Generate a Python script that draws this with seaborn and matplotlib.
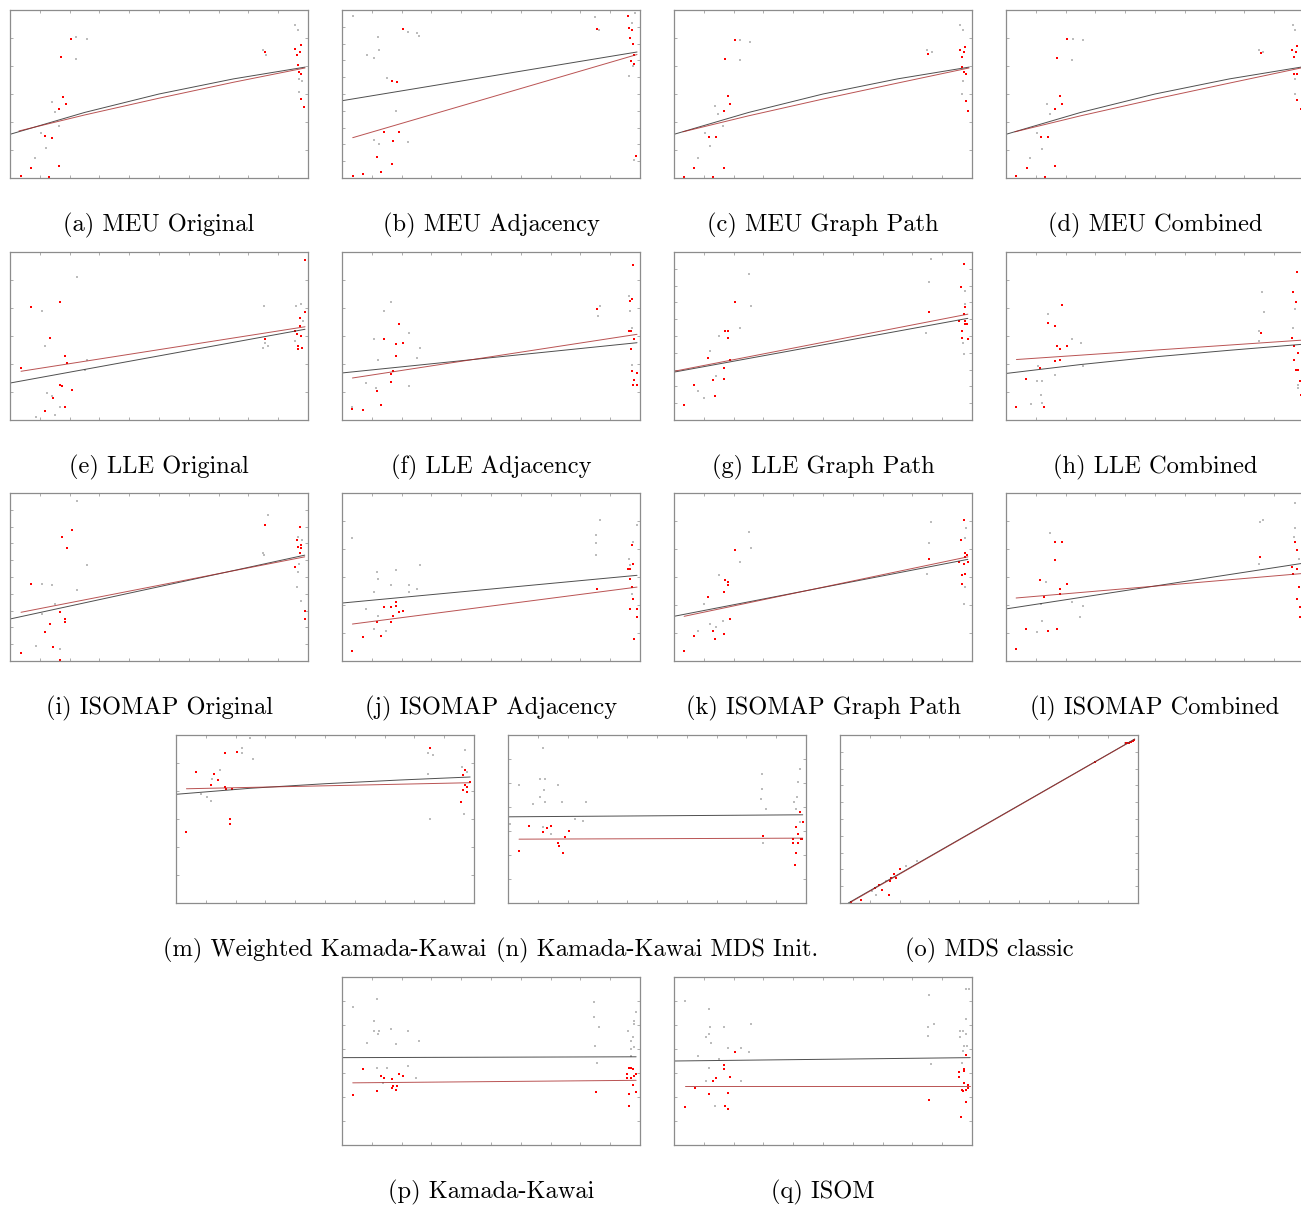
import numpy as np
import matplotlib
matplotlib.use("Agg")
import matplotlib.pyplot as plt
import seaborn as sns

sns.set_theme(style="white")
plt.rcParams['font.family'] = ['cmr10', 'DejaVu Serif']

# ---- data (normalised axis units 0..1) ----
# a) MEU Original
a_red = [(0.036,0.01),(0.069,0.06),(0.13,0.004),(0.116,0.25),(0.141,0.24),(0.165,0.07),(0.165,0.41),(0.179,0.48),(0.189,0.44),(0.17,0.72),(0.204,0.83),
         (0.855,0.75),(0.958,0.77),(0.977,0.79),(0.972,0.75),(0.964,0.73),(0.966,0.67),(0.969,0.63),(0.978,0.62),(0.978,0.47),(0.987,0.42)]
a_gray = [(0.22,0.84),(0.26,0.83),(0.22,0.71),(0.14,0.45),(0.15,0.39),(0.105,0.27),(0.12,0.18),(0.083,0.12),(0.165,0.31),
          (0.85,0.76),(0.86,0.73),(0.958,0.91),(0.967,0.88),(0.97,0.59),(0.98,0.58),(0.97,0.51)]
a_black = [(0,0.26),(0.25,0.39),(0.5,0.50),(0.75,0.59),(0.99,0.66)]
a_fit = [(0.03,0.28),(0.25,0.375),(0.5,0.475),(0.75,0.57),(0.99,0.655)]

# b) MEU Adjacency
b_red = [(0.036,0.01),(0.07,0.024),(0.13,0.034),(0.116,0.125),(0.168,0.083),(0.171,0.218),(0.142,0.275),(0.19,0.271),(0.168,0.578),(0.183,0.574),(0.206,0.887),
         (0.856,0.889),(0.959,0.964),(0.964,0.895),(0.973,0.881),(0.966,0.832),(0.975,0.796),(0.979,0.731),(0.969,0.697),(0.98,0.681),(0.988,0.133)]
b_gray = [(0.036,0.966),(0.084,0.733),(0.106,0.717),(0.12,0.842),(0.123,0.762),(0.223,0.867),(0.251,0.861),(0.26,0.846),(0.151,0.594),(0.181,0.396),
          (0.106,0.228),(0.123,0.202),(0.223,0.212),(0.849,0.96),(0.864,0.881),(0.962,0.608),(0.978,0.667),(0.98,0.109),(0.984,0.98),(0.972,0.921)]
b_black = [(0,0.46),(0.99,0.75)]
b_fit = [(0.036,0.24),(0.99,0.735)]

# c) MEU Graph Path
c_red = [(0.034,0.004),(0.068,0.06),(0.13,0.004),(0.116,0.247),(0.14,0.247),(0.167,0.06),(0.167,0.40),(0.181,0.49),(0.189,0.44),(0.17,0.71),(0.205,0.82),
         (0.854,0.74),(0.959,0.76),(0.977,0.78),(0.973,0.75),(0.965,0.72),(0.967,0.66),(0.973,0.63),(0.98,0.62),(0.98,0.46),(0.988,0.40)]
c_gray = [(0.223,0.82),(0.256,0.81),(0.223,0.70),(0.139,0.43),(0.148,0.38),(0.105,0.27),(0.12,0.19),(0.082,0.12),(0.165,0.31),
          (0.848,0.76),(0.865,0.75),(0.961,0.91),(0.97,0.88),(0.97,0.58),(0.968,0.50)]
c_black = [(0,0.26),(0.25,0.39),(0.5,0.50),(0.75,0.59),(0.99,0.66)]
c_fit = [(0.03,0.275),(0.25,0.37),(0.5,0.47),(0.75,0.565),(0.99,0.655)]

# d) MEU Combined
d_red = [(0.035,0.01),(0.07,0.06),(0.13,0.008),(0.118,0.247),(0.141,0.247),(0.165,0.07),(0.165,0.41),(0.18,0.49),(0.188,0.44),(0.172,0.715),(0.206,0.825),
         (0.855,0.745),(0.96,0.76),(0.977,0.785),(0.973,0.75),(0.965,0.72),(0.967,0.62),(0.978,0.62),(0.978,0.465),(0.989,0.41)]
d_gray = [(0.225,0.83),(0.258,0.82),(0.222,0.70),(0.138,0.44),(0.148,0.38),(0.105,0.27),(0.12,0.17),(0.082,0.12),
          (0.85,0.76),(0.862,0.75),(0.962,0.91),(0.97,0.88),(0.97,0.59),(0.97,0.50)]
d_black = [(0,0.26),(0.25,0.39),(0.5,0.50),(0.75,0.59),(0.99,0.66)]
d_fit = [(0.03,0.275),(0.25,0.37),(0.5,0.47),(0.75,0.565),(0.99,0.655)]

# e) LLE Original
e_red = [(0.037,0.31),(0.071,0.67),(0.169,0.70),(0.133,0.49),(0.183,0.38),(0.191,0.34),(0.169,0.21),(0.175,0.20),(0.208,0.18),(0.143,0.13),(0.183,0.08),(0.118,0.053),
         (0.989,0.95),(0.989,0.64),(0.972,0.61),(0.972,0.56),(0.958,0.53),(0.964,0.51),(0.978,0.50),(0.857,0.48),(0.967,0.44),(0.967,0.42),(0.979,0.43)]
e_gray = [(0.225,0.85),(0.107,0.65),(0.119,0.44),(0.26,0.36),(0.253,0.30),(0.123,0.16),(0.14,0.14),(0.168,0.08),(0.086,0.02),(0.151,0.03),
          (0.852,0.68),(0.849,0.43),(0.866,0.44),(0.857,0.46),(0.961,0.68),(0.975,0.69),(0.982,0.59),(0.958,0.47)]
e_black = [(0,0.22),(0.99,0.54)]
e_fit = [(0.037,0.29),(0.99,0.555)]

# f) LLE Adjacency
f_red = [(0.035,0.065),(0.07,0.057),(0.13,0.087),(0.116,0.172),(0.166,0.227),(0.166,0.276),(0.17,0.29),(0.142,0.48),(0.181,0.45),(0.206,0.46),(0.181,0.38),(0.19,0.57),
         (0.978,0.92),(0.857,0.66),(0.972,0.72),(0.967,0.71),(0.964,0.53),(0.97,0.53),(0.981,0.48),(0.97,0.42),(0.974,0.29),(0.99,0.28),(0.981,0.24),(0.99,0.21),(0.978,0.21)]
f_gray = [(0.166,0.70),(0.14,0.65),(0.106,0.48),(0.225,0.52),(0.261,0.43),(0.252,0.37),(0.121,0.36),(0.082,0.22),(0.114,0.19),(0.225,0.20),
          (0.867,0.68),(0.858,0.62),(0.964,0.74),(0.965,0.65),(0.972,0.55),(0.972,0.33),(0.035,0.08)]
f_black = [(0,0.28),(0.99,0.46)]
f_fit = [(0.035,0.25),(0.99,0.51)]

# g) LLE Graph Path
g_red = [(0.034,0.087),(0.068,0.21),(0.13,0.24),(0.139,0.14),(0.115,0.37),(0.167,0.245),(0.167,0.31),(0.171,0.53),(0.181,0.53),(0.181,0.49),(0.188,0.36),(0.205,0.70),
         (0.855,0.64),(0.973,0.93),(0.962,0.79),(0.976,0.67),(0.973,0.63),(0.958,0.59),(0.978,0.59),(0.984,0.57),(0.976,0.57),(0.966,0.53),(0.966,0.49),(0.986,0.48)]
g_gray = [(0.25,0.87),(0.22,0.55),(0.26,0.68),(0.12,0.41),(0.15,0.50),(0.08,0.17),(0.10,0.13),(0.14,0.26),
          (0.857,0.82),(0.862,0.96),(0.846,0.52),(0.978,0.77),(0.978,0.69),(0.97,0.46),(0.973,0.39)]
g_black = [(0,0.285),(0.986,0.605)]
g_fit = [(0,0.29),(0.986,0.63)]

# h) LLE Combined
h_red = [(0.035,0.08),(0.068,0.244),(0.129,0.08),(0.115,0.31),(0.141,0.576),(0.166,0.56),(0.166,0.35),(0.171,0.44),(0.18,0.42),(0.181,0.36),(0.188,0.685),(0.206,0.44),
         (0.856,0.52),(0.975,0.88),(0.964,0.76),(0.973,0.70),(0.959,0.49),(0.966,0.44),(0.981,0.40),(0.968,0.36),(0.973,0.30),(0.979,0.30),(0.987,0.23),(0.989,0.15)]
h_gray = [(0.14,0.63),(0.22,0.48),(0.25,0.46),(0.26,0.32),(0.106,0.32),(0.105,0.23),(0.12,0.23),(0.117,0.15),(0.083,0.095),(0.12,0.10),(0.166,0.27),
          (0.858,0.76),(0.867,0.64),(0.85,0.53),(0.85,0.47),(0.97,0.66),(0.962,0.55),(0.981,0.21),(0.981,0.19)]
h_black = [(0,0.277),(0.25,0.33),(0.5,0.376),(0.75,0.415),(0.99,0.45)]
h_fit = [(0.035,0.36),(0.99,0.475)]

# i) ISOMAP Original
i_red = [(0.037,0.05),(0.071,0.46),(0.119,0.175),(0.133,0.22),(0.143,0.083),(0.169,0.29),(0.183,0.25),(0.183,0.23),(0.169,0.008),(0.175,0.74),(0.191,0.67),(0.208,0.78),
         (0.856,0.81),(0.972,0.80),(0.964,0.72),(0.978,0.69),(0.978,0.67),(0.967,0.68),(0.972,0.64),(0.958,0.56),(0.99,0.30),(0.989,0.25)]
i_gray = [(0.225,0.95),(0.26,0.57),(0.225,0.42),(0.107,0.46),(0.14,0.45),(0.107,0.28),(0.15,0.34),(0.086,0.09),(0.168,0.07),
          (0.866,0.87),(0.849,0.64),(0.852,0.63),(0.968,0.74),(0.979,0.72),(0.969,0.58),(0.962,0.44),(0.975,0.36),(0.966,0.53)]
i_black = [(0,0.25),(0.989,0.63)]
i_fit = [(0.037,0.29),(0.989,0.62)]

# j) ISOMAP Adjacency
j_red = [(0.035,0.06),(0.07,0.14),(0.13,0.15),(0.116,0.23),(0.142,0.32),(0.166,0.23),(0.166,0.32),(0.17,0.27),(0.181,0.35),(0.181,0.33),(0.19,0.29),(0.206,0.30),
         (0.857,0.43),(0.974,0.69),(0.978,0.58),(0.961,0.55),(0.967,0.55),(0.967,0.49),(0.972,0.44),(0.978,0.37),(0.967,0.31),(0.99,0.31),(0.99,0.26),(0.981,0.13)]
j_gray = [(0.035,0.73),(0.118,0.53),(0.121,0.49),(0.166,0.45),(0.181,0.54),(0.225,0.45),(0.225,0.41),(0.252,0.43),(0.261,0.57),(0.107,0.41),(0.081,0.31),
          (0.121,0.27),(0.107,0.19),(0.149,0.18),(0.852,0.75),(0.852,0.70),(0.852,0.63),(0.867,0.84),(0.99,0.81),(0.978,0.71),(0.964,0.61),(0.967,0.57),(0.972,0.40)]
j_black = [(0,0.345),(0.99,0.51)]
j_fit = [(0.035,0.22),(0.99,0.44)]

# k) ISOMAP Graph Path
k_red = [(0.034,0.06),(0.068,0.15),(0.13,0.18),(0.139,0.13),(0.167,0.16),(0.115,0.38),(0.167,0.41),(0.171,0.48),(0.181,0.47),(0.181,0.45),(0.188,0.25),(0.205,0.66),
         (0.855,0.61),(0.973,0.84),(0.962,0.72),(0.978,0.64),(0.982,0.63),(0.976,0.62),(0.958,0.59),(0.986,0.59),(0.973,0.58),(0.965,0.51),(0.978,0.52),(0.967,0.46)]
k_gray = [(0.25,0.77),(0.26,0.67),(0.22,0.59),(0.15,0.51),(0.10,0.34),(0.12,0.22),(0.14,0.20),(0.165,0.24),(0.08,0.18),
          (0.864,0.83),(0.856,0.70),(0.848,0.52),(0.98,0.79),(0.978,0.73),(0.976,0.44),(0.973,0.34)]
k_black = [(0,0.266),(0.986,0.605)]
k_fit = [(0.034,0.266),(0.986,0.62)]

# l) ISOMAP Combined
l_red = [(0.034,0.07),(0.068,0.19),(0.128,0.38),(0.14,0.18),(0.17,0.19),(0.114,0.48),(0.165,0.71),(0.188,0.71),(0.165,0.60),(0.18,0.43),(0.18,0.40),(0.204,0.46),
         (0.853,0.62),(0.971,0.71),(0.976,0.66),(0.959,0.56),(0.978,0.55),(0.963,0.52),(0.982,0.44),(0.976,0.37),(0.986,0.32),(0.986,0.26)]
l_gray = [(0.148,0.76),(0.135,0.47),(0.117,0.34),(0.223,0.35),(0.257,0.33),(0.248,0.26),(0.121,0.24),(0.105,0.17),
          (0.853,0.83),(0.863,0.84),(0.849,0.58),(0.969,0.94),(0.969,0.79),(0.965,0.74),(0.982,0.61),(0.978,0.37)]
l_black = [(0,0.31),(0.99,0.58)]
l_fit = [(0.034,0.375),(0.99,0.52)]

# m) Weighted Kamada-Kawai
m_red = [(0.035,0.42),(0.068,0.78),(0.116,0.70),(0.129,0.77),(0.14,0.73),(0.166,0.89),(0.166,0.69),(0.169,0.68),(0.189,0.68),(0.205,0.90),(0.18,0.50),(0.181,0.47),
         (0.853,0.92),(0.956,0.60),(0.963,0.67),(0.97,0.79),(0.964,0.76),(0.97,0.70),(0.975,0.69),(0.975,0.66),(0.987,0.72)]
m_gray = [(0.223,0.92),(0.223,0.89),(0.259,0.86),(0.248,0.98),(0.149,0.79),(0.121,0.74),(0.118,0.61),(0.105,0.63),(0.083,0.65),
          (0.846,0.89),(0.846,0.77),(0.864,0.88),(0.854,0.50),(0.97,0.91),(0.961,0.81),(0.977,0.78),(0.966,0.53)]
m_black = [(0,0.647),(0.25,0.683),(0.5,0.71),(0.75,0.732),(0.987,0.75)]
m_fit = [(0.035,0.68),(0.987,0.716)]

# n) Kamada-Kawai MDS Init.
n_red = [(0.037,0.31),(0.07,0.46),(0.119,0.42),(0.132,0.445),(0.143,0.46),(0.169,0.36),(0.171,0.34),(0.183,0.295),(0.192,0.39),(0.206,0.43),
         (0.856,0.40),(0.981,0.54),(0.989,0.48),(0.966,0.45),(0.972,0.41),(0.958,0.38),(0.983,0.38),(0.988,0.38),(0.958,0.356),(0.972,0.36),(0.966,0.297),(0.964,0.228)]
n_gray = [(0.037,0.70),(0.118,0.92),(0.107,0.74),(0.124,0.74),(0.12,0.67),(0.107,0.63),(0.124,0.60),(0.083,0.59),(0.169,0.70),(0.182,0.60),(0.262,0.60),
          (0.224,0.50),(0.25,0.49),(0.143,0.41),(0.118,0.455),(0.852,0.77),(0.852,0.68),(0.849,0.62),(0.866,0.56),(0.857,0.36),(0.98,0.80),(0.974,0.72),
          (0.969,0.63),(0.96,0.60),(0.967,0.56),(0.98,0.48),(0.006,0.47)]
n_black = [(0,0.513),(0.989,0.525)]
n_fit = [(0.037,0.38),(0.989,0.386)]

# o) MDS classic
o_red = [(0.036,0.004),(0.069,0.02),(0.116,0.09),(0.13,0.11),(0.14,0.08),(0.165,0.045),(0.167,0.13),(0.17,0.15),(0.18,0.17),(0.188,0.15),(0.203,0.20),
         (0.855,0.84),(0.96,0.95),(0.965,0.953),(0.97,0.955),(0.977,0.96),(0.982,0.965),(0.987,0.97)]
o_gray = [(0.12,0.045),(0.106,0.07),(0.223,0.22),(0.26,0.25),(0.156,0.13),(0.958,0.955),(0.972,0.96)]
o_black = [(0.028,0.0),(0.989,0.976)]
o_fit = [(0.036,0.005),(0.989,0.975)]

# p) Kamada-Kawai
p_red = [(0.036,0.295),(0.07,0.45),(0.118,0.32),(0.131,0.41),(0.142,0.40),(0.167,0.39),(0.167,0.34),(0.172,0.35),(0.183,0.35),(0.182,0.33),(0.19,0.42),(0.205,0.41),
         (0.854,0.315),(0.962,0.46),(0.971,0.46),(0.978,0.45),(0.956,0.42),(0.956,0.40),(0.971,0.40),(0.979,0.41),(0.987,0.42),(0.976,0.355),(0.964,0.305),(0.987,0.315),(0.962,0.235)]
p_gray = [(0.036,0.82),(0.117,0.87),(0.106,0.74),(0.106,0.68),(0.123,0.68),(0.12,0.66),(0.165,0.69),(0.223,0.68),(0.259,0.62),(0.084,0.61),(0.182,0.60),
          (0.117,0.46),(0.151,0.46),(0.223,0.47),(0.248,0.40),(0.139,0.37),(0.847,0.85),(0.847,0.76),(0.864,0.70),(0.848,0.59),(0.855,0.49),
          (0.987,0.79),(0.979,0.74),(0.979,0.72),(0.959,0.68),(0.978,0.64),(0.97,0.62),(0.979,0.585),(0.97,0.57),(0.97,0.53)]
p_black = [(0,0.52),(0.987,0.525)]
p_fit = [(0.036,0.37),(0.987,0.385)]

# q) ISOM
q_red = [(0.036,0.227),(0.069,0.34),(0.117,0.305),(0.131,0.38),(0.141,0.40),(0.167,0.475),(0.167,0.45),(0.17,0.23),(0.18,0.31),(0.18,0.215),(0.189,0.405),(0.205,0.555),
         (0.856,0.27),(0.958,0.435),(0.972,0.44),(0.972,0.45),(0.958,0.405),(0.972,0.37),(0.966,0.33),(0.97,0.32),(0.979,0.33),(0.988,0.355),(0.988,0.34),(0.98,0.535),(0.98,0.255),(0.964,0.165)]
q_gray = [(0.036,0.86),(0.119,0.81),(0.122,0.70),(0.119,0.66),(0.106,0.64),(0.123,0.61),(0.167,0.70),(0.18,0.58),(0.224,0.58),(0.25,0.555),(0.26,0.72),
          (0.082,0.53),(0.15,0.51),(0.116,0.46),(0.106,0.38),(0.224,0.38),(0.139,0.23),(0.857,0.89),(0.854,0.70),(0.854,0.65),(0.873,0.72),(0.861,0.48),
          (0.981,0.93),(0.989,0.93),(0.979,0.75),(0.979,0.66),(0.961,0.68),(0.97,0.68),(0.959,0.64),(0.973,0.59),(0.984,0.59),(0.97,0.56),(0.965,0.49)]
q_black = [(0,0.50),(0.994,0.52)]
q_fit = [(0.036,0.353),(0.994,0.353)]

captions = ["(a) MEU Original", "(b) MEU Adjacency", "(c) MEU Graph Path", "(d) MEU Combined",
            "(e) LLE Original", "(f) LLE Adjacency", "(g) LLE Graph Path", "(h) LLE Combined",
            "(i) ISOMAP Original", "(j) ISOMAP Adjacency", "(k) ISOMAP Graph Path", "(l) ISOMAP Combined",
            "(m) Weighted Kamada-Kawai", "(n) Kamada-Kawai MDS Init.", "(o) MDS classic",
            "(p) Kamada-Kawai", "(q) ISOM"]
y_intervals = [6, 10, 6, 6, 6, 6, 10, 6, 10, 6, 6, 6, 6, 7, 10, 7, 7]

panels = [
    (a_red, a_gray, a_black, a_fit), (b_red, b_gray, b_black, b_fit),
    (c_red, c_gray, c_black, c_fit), (d_red, d_gray, d_black, d_fit),
    (e_red, e_gray, e_black, e_fit), (f_red, f_gray, f_black, f_fit),
    (g_red, g_gray, g_black, g_fit), (h_red, h_gray, h_black, h_fit),
    (i_red, i_gray, i_black, i_fit), (j_red, j_gray, j_black, j_fit),
    (k_red, k_gray, k_black, k_fit), (l_red, l_gray, l_black, l_fit),
    (m_red, m_gray, m_black, m_fit), (n_red, n_gray, n_black, n_fit),
    (o_red, o_gray, o_black, o_fit), (p_red, p_gray, p_black, p_fit),
    (q_red, q_gray, q_black, q_fit),
]

# ---- layout (pixels) ----
W, H = 1301, 1205
AW, AH = 298, 168
rows = [
    (10, [10, 342, 674, 1006]),
    (252, [10, 342, 674, 1006]),
    (493, [10, 342, 674, 1006]),
    (735, [176, 508, 840]),
    (977, [342, 674]),
]
slots = [(left, top) for top, lefts in rows for left in lefts]

fig = plt.figure(figsize=(W / 100, H / 100), dpi=100)

for (red, gray, black, fit), cap, nint, (left, top) in zip(panels, captions, y_intervals, slots):
    ax = fig.add_axes([left / W, 1 - (top + AH) / H, AW / W, AH / H])
    gx, gy = zip(*gray)
    rx, ry = zip(*red)
    bx, by = zip(*black)
    fx, fy = zip(*fit)
    sns.scatterplot(x=list(gx), y=list(gy), ax=ax, color="#a0a0a0", s=1.2, marker="s",
                    linewidth=0, alpha=0.7, legend=False)
    sns.lineplot(x=list(bx), y=list(by), ax=ax, color="#303030", lw=0.7, alpha=0.85,
                 estimator=None, legend=False)
    sns.lineplot(x=list(fx), y=list(fy), ax=ax, color="#a82828", lw=0.7, alpha=0.8,
                 estimator=None, legend=False)
    sns.scatterplot(x=list(rx), y=list(ry), ax=ax, color="red", s=3, marker="s",
                    linewidth=0, legend=False)
    ax.set_xlim(0, 1)
    ax.set_ylim(0, 1)
    ax.set_xticks(np.linspace(0, 1, 11)[1:-1])
    ax.set_yticks(np.linspace(0, 1, nint + 1)[1:-1])
    ax.tick_params(direction="in", length=2.5, width=0.6, colors="#a0a0a0",
                   top=True, right=True, labelleft=False, labelbottom=False,
                   bottom=True, left=True)
    ax.set_xlabel("")
    ax.set_ylabel("")
    for sp in ax.spines.values():
        sp.set_color("#8c8c8c")
        sp.set_linewidth(0.9)
    fig.text((left + AW / 2) / W, 1 - (top + AH + 47) / H, cap,
             ha="center", va="center", fontsize=17.6, color="black")

fig.savefig("out.png", dpi=100)
